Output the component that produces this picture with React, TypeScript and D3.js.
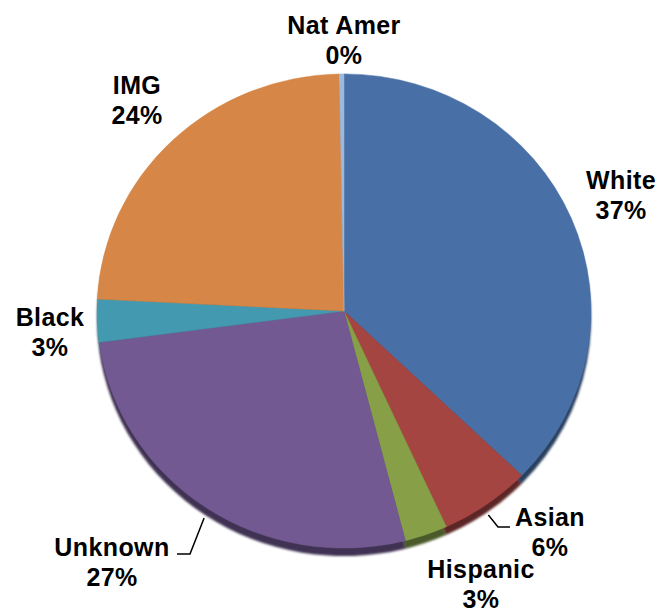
import React from "react";
import * as d3 from "d3";

const categories = ["White", "Asian", "Hispanic", "Unknown", "Black", "IMG", "Nat Amer"];
const values = [37.2, 6.0, 2.8, 26.9, 2.9, 23.9, 0.3];
const percentLabels = ["37%", "6%", "3%", "27%", "3%", "24%", "0%"];
const colors = ["#4870A6", "#A54541", "#87A048", "#725992", "#439AB0", "#D68646", "#9DB9DD"];

// label placement (center x, first baseline y)
const labelPos: [number, number][] = [
  [621, 189],
  [550, 526],
  [481, 578],
  [112, 556],
  [50, 326],
  [137, 94],
  [344, 34],
];

const W = 660;
const H = 609;
const cx = 344;
const cy = 311;
const R = 247;
const yScale = 0.96;
const depth = 8;

export default function App() {
  const pie = d3.pie<number>().sort(null).startAngle(0).endAngle(2 * Math.PI);
  const arcs = pie(values);
  const arc = d3.arc<d3.PieArcDatum<number>>().innerRadius(0).outerRadius(R);

  const edge = (a: number, rr: number, dy = 0): [number, number] => [
    cx + rr * Math.sin(a),
    cy + dy - rr * Math.cos(a) * yScale,
  ];

  const leader = (i: number, toX: number, toY: number, horiz: number) => {
    const a = (arcs[i].startAngle + arcs[i].endAngle) / 2;
    const [sx, sy] = edge(a, R + 3, depth);
    return `M${sx},${sy}L${toX},${toY}L${toX + horiz},${toY}`;
  };
  const asianPath = leader(1, 498, 527, 12);
  const unknownPath = leader(3, 190, 554, -13);

  return (
    <svg
      width={W}
      height={H}
      style={{ position: "absolute", left: 0, top: 0, background: "#fff" }}
      fontFamily="'Liberation Sans', Arial, sans-serif"
    >
      <defs>
        <filter id="soft" x="-10%" y="-10%" width="120%" height="120%">
          <feGaussianBlur stdDeviation="1" />
        </filter>
      </defs>
      <g transform={`translate(${cx},${cy + depth}) scale(1,${yScale})`} filter="url(#soft)">
        {arcs.map((d, i) => (
          <path key={"s" + i} d={arc(d) || ""} fill={d3.color(colors[i])!.darker(1.6).toString()} />
        ))}
      </g>
      <g transform={`translate(${cx},${cy}) scale(1,${yScale})`}>
        {arcs.map((d, i) => (
          <path key={"p" + i} d={arc(d) || ""} fill={colors[i]} stroke={colors[i]} strokeWidth={0.5} />
        ))}
      </g>
      <path d={asianPath} fill="none" stroke="#000" strokeWidth={1.5} />
      <path d={unknownPath} fill="none" stroke="#000" strokeWidth={1.5} />
      {categories.map((c, i) => (
        <text
          key={"t" + i}
          x={labelPos[i][0]}
          y={labelPos[i][1]}
          textAnchor="middle"
          fontSize={25}
          fontWeight="bold"
          letterSpacing={0.4}
          fill="#000"
        >
          <tspan x={labelPos[i][0]}>{c}</tspan>
          <tspan x={labelPos[i][0]} dy={30}>
            {percentLabels[i]}
          </tspan>
        </text>
      ))}
    </svg>
  );
}
